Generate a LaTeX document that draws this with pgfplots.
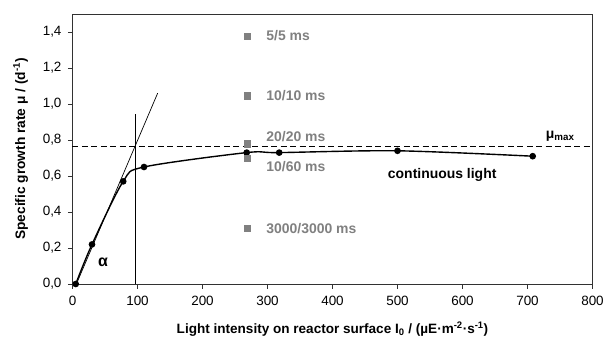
\documentclass[border=0pt]{standalone}
\usepackage{pgfplots}
\pgfplotsset{compat=1.18}
\usepackage{fontspec}
\setmainfont{Liberation Sans}
\definecolor{sqgray}{RGB}{128,128,128}
\definecolor{axgray}{RGB}{50,50,50}
\begin{document}
\begin{tikzpicture}
\begin{axis}[
  name=ax,
  scale only axis,
  width=520bp, height=270bp,
  xmin=0, xmax=800, ymin=0, ymax=1.5,
  xtick={0,100,...,800},
  ytick={0,0.2,...,1.4},
  tick align=outside,
  xtick pos=bottom, ytick pos=left,
  major tick length=4.5bp,
  axis line style={axgray, line width=0.9pt},
  every tick/.style={axgray, line width=0.9pt},
  tick label style={font=\fontsize{13.5}{15}\selectfont},
  /pgf/number format/assume math mode=true,
  yticklabel style={xshift=-3bp, /pgf/number format/.cd, use comma, fixed, fixed zerofill, precision=1},
  xticklabel style={yshift=-4bp, /pgf/number format/.cd, fixed},
  xlabel={\textbf{Light intensity on reactor surface I\textsubscript{0} / (µE·m\textsuperscript{-2}·s\textsuperscript{-1})}},
  ylabel={\textbf{Specific growth rate μ / (d\textsuperscript{-1})}},
  xlabel style={font=\fontsize{13.6}{15}\selectfont, yshift=-9bp},
  ylabel style={font=\fontsize{13.8}{16}\selectfont, yshift=8bp},
  clip=false,
]
% mu_max dashed line
\addplot[black, line width=1pt, dash pattern=on 6pt off 3.5pt] coordinates {(0,0.763) (800,0.763)};
% tangent
\addplot[black, line width=0.7pt] coordinates {(6,0) (131,1.06)};
% vertical line
\addplot[black, line width=0.7pt] coordinates {(96,0) (96,0.945)};
% continuous light
\addplot[black, line width=1.4pt, smooth, tension=0.5, mark=*, mark size=2.6pt, mark options={solid,fill=black}]
  coordinates {(5,0) (30,0.22) (78,0.57) (110,0.65) (268,0.73) (318,0.73) (500,0.74) (708,0.71)};
% flashing light
\addplot[only marks, mark=square*, mark size=3.2pt, color=sqgray, mark options={fill=sqgray}]
  coordinates {(269,1.378) (269,1.046) (269,0.78) (269,0.70) (269,0.31)};
\begin{scope}[every node/.style={font=\fontsize{14}{16}\selectfont\bfseries, text=sqgray, anchor=west, inner sep=0pt}]
\node at (axis cs:298,1.38) {5/5 ms};
\node at (axis cs:298,1.045) {10/10 ms};
\node at (axis cs:298,0.818) {20/20 ms};
\node at (axis cs:298,0.652) {10/60 ms};
\node at (axis cs:298,0.31) {3000/3000 ms};
\end{scope}
\node[font=\fontsize{14}{16}\selectfont\bfseries, anchor=west, inner sep=0pt] at (axis cs:485,0.605) {continuous light};
\node[font=\fontsize{14}{16}\selectfont\bfseries, anchor=west, inner sep=0pt] at (axis cs:728,0.82) {μ\textsubscript{max}};
\node[font=\fontsize{16}{18}\selectfont\bfseries, inner sep=0pt] at (axis cs:47,0.12) {α};
\end{axis}
\pgfresetboundingbox
\path (ax.south west) ++(-72.5bp,-54bp) rectangle ++(604bp,338bp);
\end{tikzpicture}
\end{document}
